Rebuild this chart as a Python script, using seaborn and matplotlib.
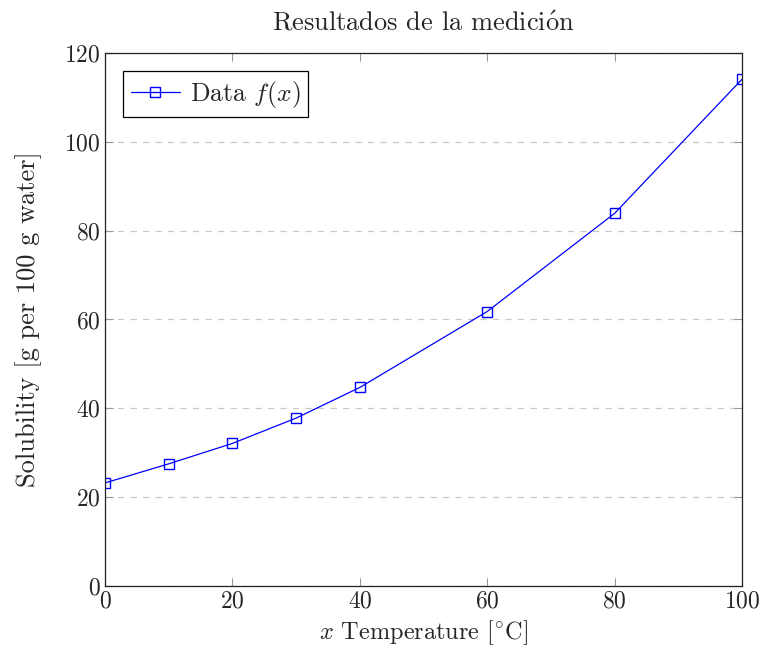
import pandas as pd
import matplotlib.pyplot as plt
import seaborn as sns

# Solubility data
temperature = [0, 10, 20, 30, 40, 60, 80, 100]
solubility = [23.2, 27.5, 32.1, 37.8, 44.7, 61.8, 83.9, 114.1]
y_ticks = [0, 20, 40, 60, 80, 100, 120]
x_ticks = [0, 20, 40, 60, 80, 100]

df = pd.DataFrame({"Temperature": temperature, "Solubility": solubility})

sns.set_style("ticks")
plt.rcParams['font.family'] = ['cmr10', 'DejaVu Serif']
plt.rcParams['mathtext.fontset'] = 'cm'
plt.rcParams['axes.formatter.use_mathtext'] = True

fig = plt.figure(figsize=(7.62, 6.57), dpi=100)
ax = fig.add_axes([0.1378, 0.1081, 0.8360, 0.8112])

sns.lineplot(data=df, x="Temperature", y="Solubility", ax=ax,
             color="blue", linewidth=0.9, marker="s", markersize=7,
             markerfacecolor="none", markeredgecolor="blue", markeredgewidth=1.0,
             label=r"Data $f(x)$")

ax.set_xlim(0, 100)
ax.set_ylim(0, 120)
ax.set_xticks(x_ticks)
ax.set_yticks(y_ticks)
ax.yaxis.grid(True, linestyle=(0, (5, 5)), color="#c8c8c8", linewidth=0.9)
ax.set_axisbelow(True)
ax.tick_params(direction="in", length=6, color="#999999", labelsize=17,
               top=True, right=True, pad=3)
for s in ax.spines.values():
    s.set_color("#222222")
    s.set_linewidth(0.9)

ax.set_title(r"Resultados de la medici$\mathrm{\acute{o}}$n", fontsize=19, pad=16)
ax.set_xlabel(r"$x$ Temperature [$^{\circ}$C]", fontsize=17.5, labelpad=4)
ax.set_ylabel("Solubility [g per 100 g water]", fontsize=19, labelpad=16)

leg = ax.legend(loc="upper left", fontsize=18.5, fancybox=False, framealpha=1,
                edgecolor="black", handlelength=1.9, handletextpad=0.4,
                borderpad=0.3, borderaxespad=0.7)
leg.get_frame().set_linewidth(0.9)

fig.savefig("out.png", dpi=100)
